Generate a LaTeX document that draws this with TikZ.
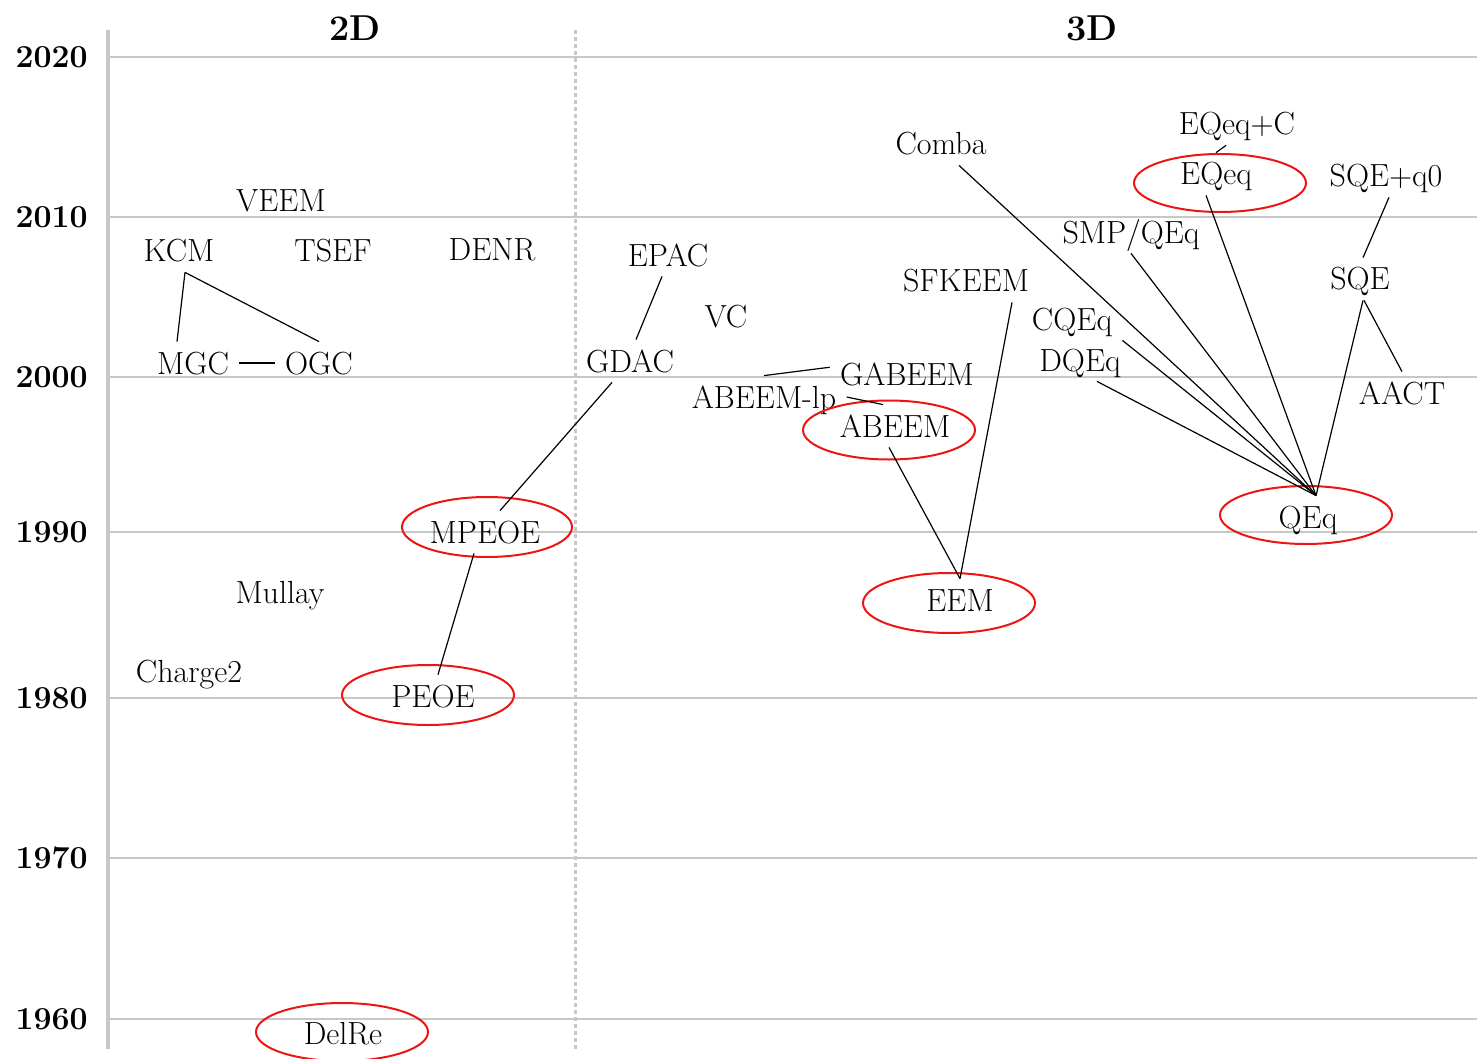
\documentclass[tikz,border=0pt]{standalone}
\usepackage{xcolor}
\definecolor{GridGray}{rgb}{0.78, 0.78, 0.78}
\definecolor{RingRed}{rgb}{0.93, 0.08, 0.08}

\begin{document}
\begin{tikzpicture}[x=0.5pt,y=0.5pt,yscale=-1,xscale=1,
	method/.style={font=\fontsize{16}{19}\selectfont, text height=11pt, text depth=0pt, inner sep=5pt},
	year/.style={font=\bfseries\fontsize{16}{19}\selectfont, anchor=east, inner sep=0pt},
	panel/.style={font=\bfseries\fontsize{18}{21}\selectfont, inner sep=0pt},
	gridline/.style={GridGray, line width=1pt},
	link/.style={black, line width=0.6pt},
	ring/.style={RingRed, line width=1pt}]
		% Set diagram size to the reference: 1477 wide, 1059 high
		\useasboundingbox (0,0) rectangle (1477,1059);

		% Draw the horizontal grid lines, one per decade
		\draw[gridline] (110,57) -- (1477,57);
		\draw[gridline] (110,217) -- (1477,217);
		\draw[gridline] (110,377) -- (1477,377);
		\draw[gridline] (110,532) -- (1477,532);
		\draw[gridline] (110,698) -- (1477,698);
		\draw[gridline] (110,858) -- (1477,858);
		\draw[gridline] (110,1019) -- (1477,1019);

		% Draw the thick time axis and the dotted 2D/3D separator
		\draw[GridGray, line width=2pt] (108,30) -- (108,1049);
		\draw[GridGray, line width=1.5pt, dash pattern=on 2pt off 1.5pt] (575,30) -- (575,1050);

		% The years on the left
		\node[year] (y2020) at (88,57) {2020};
		\node[year] (y2010) at (88,217) {2010};
		\node[year] (y2000) at (88,377) {2000};
		\node[year] (y1990) at (88,532) {1990};
		\node[year] (y1980) at (88,698) {1980};
		\node[year] (y1970) at (88,858) {1970};
		\node[year] (y1960) at (88,1019) {1960};

		% The panel titles
		\node[panel] (twoD) at (355,28) {2D};
		\node[panel] (threeD) at (1092,28) {3D};

		% The 2D methods
		\node[method] (VEEM) at (281,201) {VEEM};
		\node[method] (KCM) at (179,251) {KCM};
		\node[method] (TSEF) at (333,251) {TSEF};
		\node[method] (DENR) at (492,250) {DENR};
		\node[method] (MGC) at (193,363) {MGC};
		\node[method] (OGC) at (319,363) {OGC};
		\node[method] (MPEOE) at (485,532) {MPEOE};
		\node[method] (Mullay) at (280,592) {Mullay};
		\node[method] (Charge2) at (189,671) {Charge2};
		\node[method] (PEOE) at (433,696) {PEOE};
		\node[method] (DelRe) at (343,1033) {DelRe};

		% The 3D methods
		\node[method] (EQeqC) at (1237,124) {EQeq+C};
		\node[method] (Comba) at (941,144) {Comba};
		\node[method] (EQeq) at (1216,174) {EQeq};
		\node[method] (SQEq0) at (1386,176) {SQE+q0};
		\node[method] (SMPQEq) at (1131,232) {SMP/QEq};
		\node[method] (EPAC) at (668,255) {EPAC};
		\node[method] (SQE) at (1360,279) {SQE};
		\node[method] (SFKEEM) at (966,281) {SFKEEM};
		\node[method] (VC) at (726,316) {VC};
		\node[method] (CQEq) at (1072,319) {CQEq};
		\node[method] (DQEq) at (1080,360) {DQEq};
		\node[method] (GDAC) at (630,361) {GDAC};
		\node[method] (GABEEM) at (907,374) {GABEEM};
		\node[method] (AACT) at (1402,393) {AACT};
		\node[method] (ABEEMlp) at (764,397) {ABEEM-lp};
		\node[method] (ABEEM) at (895,426) {ABEEM};
		\node[method] (QEq) at (1308,517) {QEq};
		\node[method] (EEM) at (960,600) {EEM};

		% The red rings round the key methods
		\draw[ring] (487,527) ellipse (42.5pt and 15pt);
		\draw[ring] (428,695) ellipse (43pt and 15pt);
		\draw[ring] (342,1032) ellipse (43pt and 14.5pt);
		\draw[ring] (889,430) ellipse (43pt and 14.75pt);
		\draw[ring] (949,603) ellipse (43pt and 15pt);
		\draw[ring] (1220,183) ellipse (43pt and 14.5pt);
		\draw[ring] (1306,515) ellipse (43pt and 14.5pt);

		% The links in the 2D panel
		\draw[link] ([xshift=3pt]KCM.south) -- ([xshift=-8pt]MGC.north);
		\draw[link] ([xshift=3pt]KCM.south) -- (OGC.north);
		\draw[link] (MGC.east) -- (OGC.west);
		\draw[link] ([xshift=-5.5pt]MPEOE.south) -- ([xshift=2.5pt]PEOE.north);

		% The links from GDAC across the separator
		\draw[link] ([xshift=-3pt]EPAC.south) -- ([xshift=3pt]GDAC.north);
		\draw[link] ([xshift=-9pt]GDAC.south) -- ([xshift=7.5pt]MPEOE.north);

		% The links down to EEM
		\draw[link] (ABEEMlp.north) -- (GABEEM.175);
		\draw[link] (ABEEMlp.east) -- ([xshift=-6pt]ABEEM.north);
		\draw[link] ([xshift=-3pt]ABEEM.south) -- (EEM.north);
		\draw[link] ([xshift=23pt]SFKEEM.south) -- (EEM.north);

		% The links down to QEq
		\draw[link] ([xshift=9pt]Comba.south) -- ([xshift=4pt]QEq.north);
		\draw[link] (SMPQEq.south) -- ([xshift=4pt]QEq.north);
		\draw[link] ([xshift=-5pt]EQeq.south) -- ([xshift=4pt]QEq.north);
		\draw[link] (CQEq.south east) -- ([xshift=4pt]QEq.north);
		\draw[link] ([xshift=8.5pt]DQEq.south) -- ([xshift=4pt]QEq.north);
		\draw[link] ([xshift=1.5pt]SQE.south) -- ([xshift=4pt]QEq.north);

		% The remaining links on the right
		\draw[link] ([xshift=2pt]SQE.south) -- (AACT.north);
		\draw[link] ([xshift=1.5pt]SQEq0.south) -- ([xshift=1.5pt]SQE.north);
		\draw[link] ([xshift=-5.5pt]EQeqC.south) -- (EQeq.north);
	\end{tikzpicture}
\end{document}
